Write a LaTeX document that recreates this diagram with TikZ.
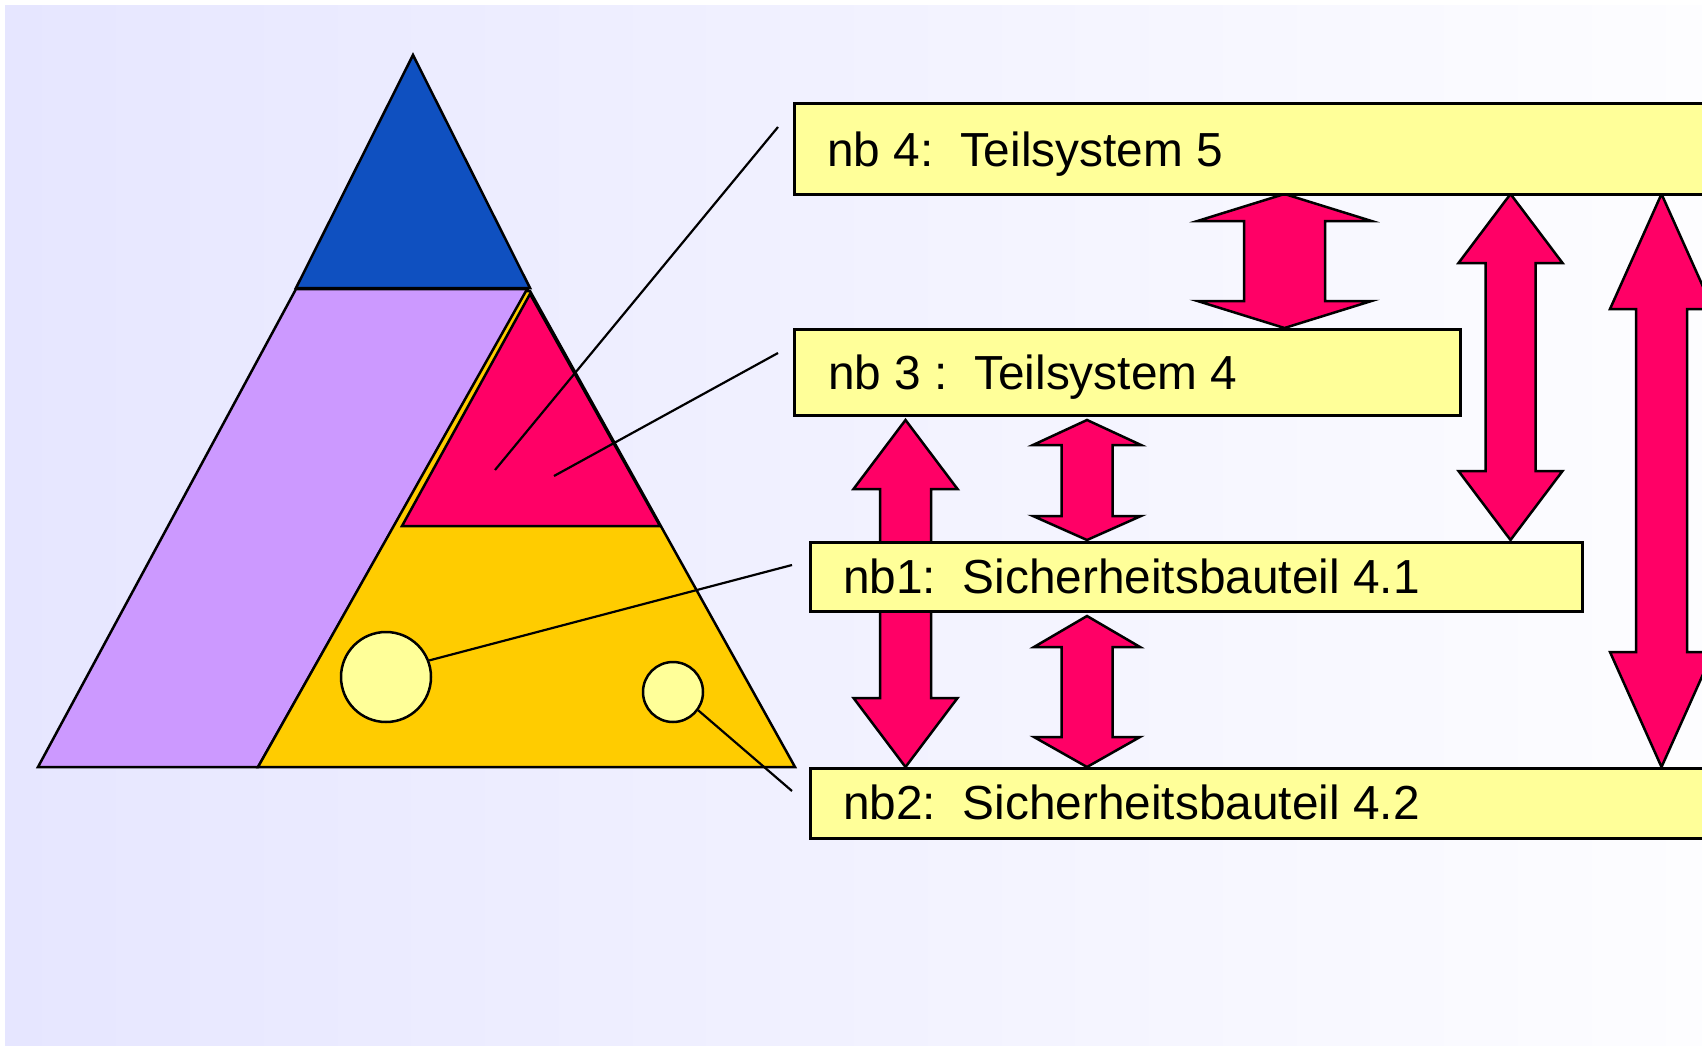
\documentclass[tikz,border=0pt]{standalone}
\usepackage{fontspec}
\setmainfont{Liberation Sans}
\definecolor{bgl}{HTML}{E6E6FF}
\definecolor{bgr}{HTML}{FDFDFF}
\definecolor{topblue}{HTML}{0F50C0}
\definecolor{lilac}{HTML}{CC99FF}
\definecolor{hotred}{HTML}{FF0066}
\definecolor{gold}{HTML}{FFCC00}
\definecolor{boxy}{HTML}{FFFF99}
\newcommand\DArrow[7]{%
  \draw[arr] (#1,#2) -- ({#1+#5},{#2+#6}) -- ({#1+#4},{#2+#6}) -- ({#1+#4},{#3-#7})
    -- ({#1+#5},{#3-#7}) -- (#1,#3) -- ({#1-#5},{#3-#7}) -- ({#1-#4},{#3-#7})
    -- ({#1-#4},{#2+#6}) -- ({#1-#5},{#2+#6}) -- cycle;}
\begin{document}
\begin{tikzpicture}[x=1pt,y=-1pt,line join=miter,
  outl/.style={draw=black,line width=2.5pt},
  boxst/.style={draw=black,line width=3pt,fill=boxy,inner sep=0pt,anchor=north west},
  lbl/.style={anchor=base west,inner sep=0pt,font=\fontsize{47.8}{57}\selectfont},
  callout/.style={draw=black,line width=2.2pt},
  arr/.style={fill=hotred,draw=black,line width=2.5pt},
  disc/.style={circle,draw=black,line width=2.5pt,fill=boxy,inner sep=0pt}]
\useasboundingbox (0,0) rectangle (1702,1046);
\clip (0,0) rectangle (1702,1046);
\fill[white] (0,0) rectangle (1702,1046);
\shade[left color=bgl,right color=bgr] (5,6) rectangle (1702,1046);

% pyramid
\draw[outl,fill=topblue] (413,55) -- (530,288) -- (296,288) -- cycle;
\draw[outl,fill=lilac] (296,289) -- (528,289) -- (258,767) -- (38,767) -- cycle;
\draw[outl,fill=gold] (526,291) -- (530,291) -- (795,767) -- (258,767) -- cycle;
\draw[outl,fill=hotred] (530,294) -- (660,526) -- (402,526) -- cycle;

% discs
\node[disc,minimum size=90pt] (bigc) at (386,677) {};
\node[disc,minimum size=60pt] (smallc) at (673,692) {};

% callout lines
\coordinate (s1) at (495,470);
\coordinate (e1) at (778,127);
\coordinate (s2) at (554,476);
\coordinate (e2) at (778,353);
\coordinate (e3) at (792,565);
\coordinate (e4) at (792,791);
\draw[callout] (s1) -- (e1);
\draw[callout] (s2) -- (e2);
\draw[callout] (bigc.21) -- (e3);
\draw[callout] (smallc.-36) -- (e4);

% block arrows
\DArrow{1284.5}{194}{328}{40.5}{87}{27}{27}
\DArrow{1510.5}{194}{540}{25}{52}{69}{69}
\DArrow{1661.5}{194}{767}{25.5}{51.5}{115}{115}
\DArrow{905.5}{420}{767}{25.5}{52}{69}{69}
\DArrow{1087}{420}{540}{25.5}{54}{25}{24}
\DArrow{1087}{616}{767}{25.5}{53}{31}{30}

% boxes
\node[boxst,minimum width=957pt,minimum height=91pt] (nb4) at (793,102) {};
\node[boxst,minimum width=666pt,minimum height=86pt] (nb3) at (793,328) {};
\node[boxst,minimum width=772pt,minimum height=69pt] (nb1) at (809,541) {};
\node[boxst,minimum width=941pt,minimum height=70pt] (nb2) at (809,767) {};

\node[lbl] (t4) at (827,166) {nb 4:\ \ Teilsystem 5};
\node[lbl] (t3) at (828,389) {nb 3 :\ \ Teilsystem 4};
\node[lbl] (t1) at (843,593) {nb1:\ \ Sicherheitsbauteil 4.1};
\node[lbl] (t2) at (843,819) {nb2:\ \ Sicherheitsbauteil 4.2};
\end{tikzpicture}
\end{document}
